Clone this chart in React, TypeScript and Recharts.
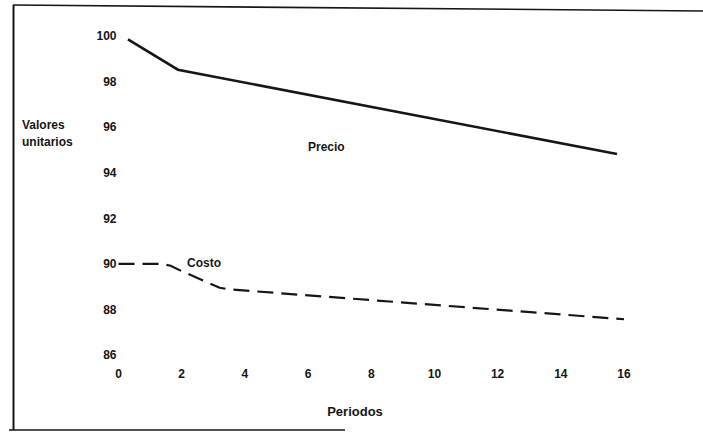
import React from "react";
import { LineChart, Line, XAxis, YAxis } from "recharts";

const xTicks = [0, 2, 4, 6, 8, 10, 12, 14, 16];
const yTicks = [86, 88, 90, 92, 94, 96, 98, 100];

const precioPeriodos = [0.3, 1.88, 15.78];
const precioValores = [99.85, 98.52, 94.82];

const costoPeriodos = [0, 1.35, 1.65, 2.0, 3.2, 3.5, 16];
const costoValores = [90.0, 90.0, 89.92, 89.68, 88.95, 88.88, 87.57];

const precioData = precioPeriodos.map((x, i) => ({ x, y: precioValores[i] }));
const costoData = costoPeriodos.map((x, i) => ({ x, y: costoValores[i] }));

const FONT = "'Liberation Sans', Arial, Helvetica, sans-serif";
const INK = "#161616";

const tickStyle = { fontFamily: FONT, fontSize: 12, fontWeight: 700, fill: INK };

export default function App() {
  return (
    <div
      style={{
        position: "absolute",
        left: 0,
        top: 0,
        width: 703,
        height: 434,
        background: "#ffffff",
        overflow: "hidden",
      }}
    >
      <LineChart
        width={703}
        height={434}
        margin={{ top: 36, right: 79, bottom: 49, left: 78.5 }}
      >
        <XAxis
          type="number"
          dataKey="x"
          domain={[0, 16]}
          ticks={xTicks}
          axisLine={false}
          tickLine={false}
          tickSize={0}
          tickMargin={14}
          height={30}
          tick={tickStyle}
          interval={0}
          allowDuplicatedCategory={false}
        />
        <YAxis
          type="number"
          dataKey="y"
          domain={[86, 100]}
          ticks={yTicks}
          axisLine={false}
          tickLine={false}
          tickSize={0}
          tickMargin={2}
          width={40}
          tick={tickStyle}
          interval={0}
        />
        <Line
          data={precioData}
          dataKey="y"
          type="linear"
          stroke={INK}
          strokeWidth={2.6}
          dot={false}
          activeDot={false}
          isAnimationActive={false}
        />
        <Line
          data={costoData}
          dataKey="y"
          type="linear"
          stroke={INK}
          strokeWidth={2.2}
          strokeDasharray="16 8"
          dot={false}
          activeDot={false}
          isAnimationActive={false}
        />
      </LineChart>
      <svg
        width={703}
        height={434}
        style={{ position: "absolute", left: 0, top: 0, pointerEvents: "none" }}
      >
        <line x1={13.5} y1={5} x2={13.5} y2={430} stroke={INK} strokeWidth={2} />
        <line x1={13} y1={5} x2={703} y2={11} stroke={INK} strokeWidth={1.6} />
        <line x1={9} y1={430} x2={345} y2={430} stroke={INK} strokeWidth={1.6} />
        <g fontFamily={FONT} fontSize={12} fontWeight={700} fill={INK}>
          <text x={22} y={125} dominantBaseline="central">Valores</text>
          <text x={22} y={142} dominantBaseline="central">unitarios</text>
          <text x={308} y={147} dominantBaseline="central">Precio</text>
          <text x={187} y={263} dominantBaseline="central">Costo</text>
          <text x={355} y={411} dominantBaseline="central" textAnchor="middle" fontSize={13}>
            Periodos
          </text>
        </g>
      </svg>
    </div>
  );
}
